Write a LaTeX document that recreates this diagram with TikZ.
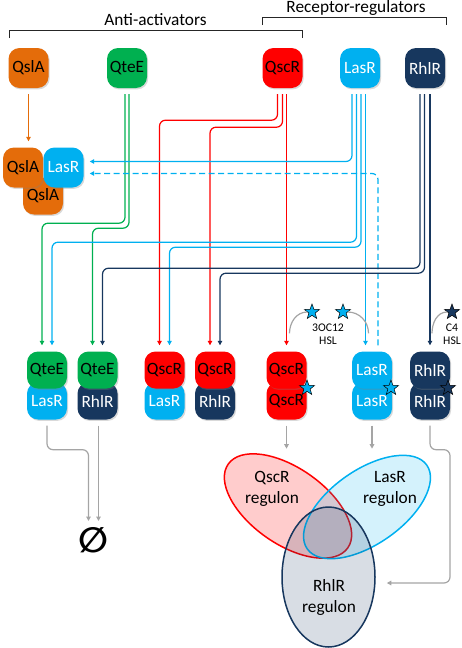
\documentclass[tikz,border=0pt]{standalone}
\usepackage{fontspec}
\setmainfont{Carlito}
\newfontfamily\nullsetfont{DejaVu Sans}
\usetikzlibrary{arrows.meta,shapes.geometric,shadows}

\definecolor{qslacol}{RGB}{228,108,10}
\definecolor{qteecol}{RGB}{0,176,80}
\definecolor{qscrcol}{RGB}{255,0,0}
\definecolor{lasrcol}{RGB}{0,176,240}
\definecolor{rhlrcol}{RGB}{23,55,94}
\definecolor{arrgray}{RGB}{165,165,165}

\begin{document}
\begin{tikzpicture}[x=1pt,y=1pt,
  font=\fontsize{17.3}{20.5}\selectfont,
  prot/.style={rectangle,rounded corners=11pt,minimum width=40pt,minimum height=40pt,inner sep=0pt,
    drop shadow={opacity=.3,shadow xshift=1.2pt,shadow yshift=-1.4pt}},
  half/.style={prot,minimum height=37pt},
  qsla/.style={fill=qslacol,text=black},
  qtee/.style={fill=qteecol,text=black},
  qscr/.style={fill=qscrcol,text=black},
  lasr/.style={fill=lasrcol,text=white},
  rhlr/.style={fill=rhlrcol,text=white},
  link/.style={line width=1.2pt,rounded corners=6pt,shorten <=6pt,shorten >=6pt,
    -{Triangle[length=4.5pt,width=4.5pt]}},
  decay/.style={link,arrgray},
  hsl/.style={star,star points=5,star point ratio=2.4,minimum size=16pt,inner sep=0pt,
    draw=black,line width=.5pt},
  ligand/.style={arrgray,line width=1.2pt},
  regulon/.style={ellipse,line width=1.5pt,inner sep=0pt},
  bracket/.style={line width=.8pt,black!85}]

  \useasboundingbox (0,0) rectangle (461,-648);

  \node[anchor=base] (antiLbl) at (155.5,-25) {Anti-activators};
  \node[anchor=base] (recLbl) at (356,-12.7) {Receptor-regulators};
  \draw[bracket] (9,-38) |- (302,-30) -- (302,-38);
  \draw[bracket] (262,-25) |- (446,-17) -- (446,-25);

  \node[prot,qsla] (qslaT) at (28.5,-68) {QslA};
  \node[prot,qtee] (qteeT) at (127,-68) {QteE};
  \node[prot,qscr] (qscrT) at (282.5,-68) {QscR};
  \node[prot,lasr] (lasrT) at (360,-68) {LasR};
  \node[prot,rhlr] (rhlrT) at (425,-68) {RhlR};

  \node[half,qsla] (cQslAb) at (43,-196) {QslA};
  \node[prot,qsla] (cQslA) at (23,-167.5) {QslA};
  \node[prot,lasr] (cLasR) at (63.5,-167.5) {LasR};

  \node[half,lasr] (d1b) at (47,-401) {LasR};
  \node[half,qtee] (d1t) at (47,-370) {QteE};
  \node[half,rhlr] (d2b) at (97.5,-401) {RhlR};
  \node[half,qtee] (d2t) at (97.5,-370) {QteE};
  \node[half,lasr] (d3b) at (164.5,-401) {LasR};
  \node[half,qscr] (d3t) at (164.5,-370) {QscR};
  \node[half,rhlr] (d4b) at (215,-401) {RhlR};
  \node[half,qscr] (d4t) at (215,-370) {QscR};
  \node[half,qscr] (d5b) at (286.5,-401) {QscR};
  \node[half,qscr] (d5t) at (286.5,-370) {QscR};
  \node[half,lasr] (d6b) at (372,-401) {LasR};
  \node[half,lasr] (d6t) at (372,-370) {LasR};
  \node[half,rhlr] (d7b) at (430,-401) {RhlR};
  \node[half,rhlr] (d7t) at (430,-370) {RhlR};

  \node[hsl,fill=lasrcol] (b5) at (307,-388) {};
  \node[hsl,fill=lasrcol] (b6) at (391,-388) {};
  \node[hsl,fill=rhlrcol] (b7) at (448,-388) {};

  \node[hsl,fill=lasrcol] (s1) at (312,-312) {};
  \node[hsl,fill=lasrcol] (s2) at (343,-312) {};
  \node[hsl,fill=rhlrcol] (s3) at (452,-312) {};
  \node[font=\fontsize{11.7}{13}\selectfont,align=center] (oc12) at (328,-334.5) {3OC12\\HSL};
  \node[font=\fontsize{11.7}{13}\selectfont,align=center] (c4) at (452,-334.5) {C4\\HSL};

  \node[inner sep=0pt,font=\nullsetfont\bfseries\fontsize{35}{35}\selectfont] (empty) at (93.5,-540) {∅};

  \node[regulon,draw=qscrcol,fill=qscrcol,fill opacity=.2,minimum width=146pt,minimum height=76pt,rotate=-35] (qscrReg) at (288,-506) {};
  \node[regulon,draw=lasrcol,fill=lasrcol,fill opacity=.17,minimum width=146pt,minimum height=74pt,rotate=35] (lasrReg) at (367,-507) {};
  \node[regulon,draw=rhlrcol,fill=rhlrcol,fill opacity=.17,minimum width=93pt,minimum height=140pt] (rhlrReg) at (328.5,-577) {};
  \node[align=center] (qscrTxt) at (272,-489) {QscR\\regulon};
  \node[align=center] (lasrTxt) at (390,-489) {LasR\\regulon};
  \node[align=center] (rhlrTxt) at (329,-597.5) {RhlR\\regulon};

  \draw[link,qslacol] (qslaT) -- (qslaT |- cQslA.north);

  \draw[link,qteecol] ([xshift=-2pt]qteeT.south) -- ++(0,-135) -| ([xshift=-5pt]d1t.north);
  \draw[link,qteecol] ([xshift=2pt]qteeT.south) -- ++(0,-140) -| ([xshift=-5pt]d2t.north);

  \draw[link,qscrcol] ([xshift=-5pt]qscrT.south) -- ++(0,-32) -| ([xshift=-5pt]d3t.north);
  \draw[link,qscrcol] (qscrT.south) -- ++(0,-39) -| ([xshift=-5pt]d4t.north);
  \draw[link,qscrcol] (qscrT.south -| d5t) -- (d5t);

  \draw[link,lasrcol] ([xshift=-8pt]lasrT.south) |- ([yshift=6pt]cLasR.east);
  \draw[link,lasrcol] ([xshift=-3.5pt]lasrT.south) -- ++(0,-154) -| ([xshift=5pt]d1t.north);
  \draw[link,lasrcol] ([xshift=1pt]lasrT.south) -- ++(0,-159) -| ([xshift=5pt]d3t.north);
  \draw[link,lasrcol] ([xshift=-6.5pt]d6t.north |- lasrT.south) -- ([xshift=-6.5pt]d6t.north);
  \draw[link,lasrcol,dash pattern=on 6pt off 3.5pt] ([xshift=6pt]d6t.north) |- ([yshift=-6pt]cLasR.east);

  \draw[link,rhlrcol] ([xshift=-5pt]rhlrT.south) -- ++(0,-180) -| ([xshift=5pt]d2t.north);
  \draw[link,rhlrcol] ([xshift=-0.5pt]rhlrT.south) -- ++(0,-185) -| ([xshift=5pt]d4t.north);
  \draw[link,rhlrcol] (rhlrT.south -| d7t) -- (d7t);

  \draw[ligand] (s1.west) to[out=180,in=90] ([xshift=3pt,yshift=18pt]d5t.north);
  \draw[ligand] (s2.east) to[out=0,in=90] ([xshift=-3.5pt,yshift=18pt]d6t.north);
  \draw[ligand] (s3.west) to[out=180,in=90] ([xshift=2pt,yshift=18pt]d7t.north);

  \draw[decay] (d1b.south) -- ++(0,-30) -| ([xshift=-5pt]empty.north);
  \draw[decay] ([xshift=5pt]empty.north |- d2b.south) -- ([xshift=5pt]empty.north);
  \draw[decay] (d5b.south) -- ++(0,-35);
  \draw[decay] (d6b.south) -- ++(0,-35);
  \draw[decay] (d7b.south) -- ++(0,-30) -- ++(20,0) |- ([xshift=5pt,yshift=-6pt]rhlrReg.east);
\end{tikzpicture}
\end{document}
